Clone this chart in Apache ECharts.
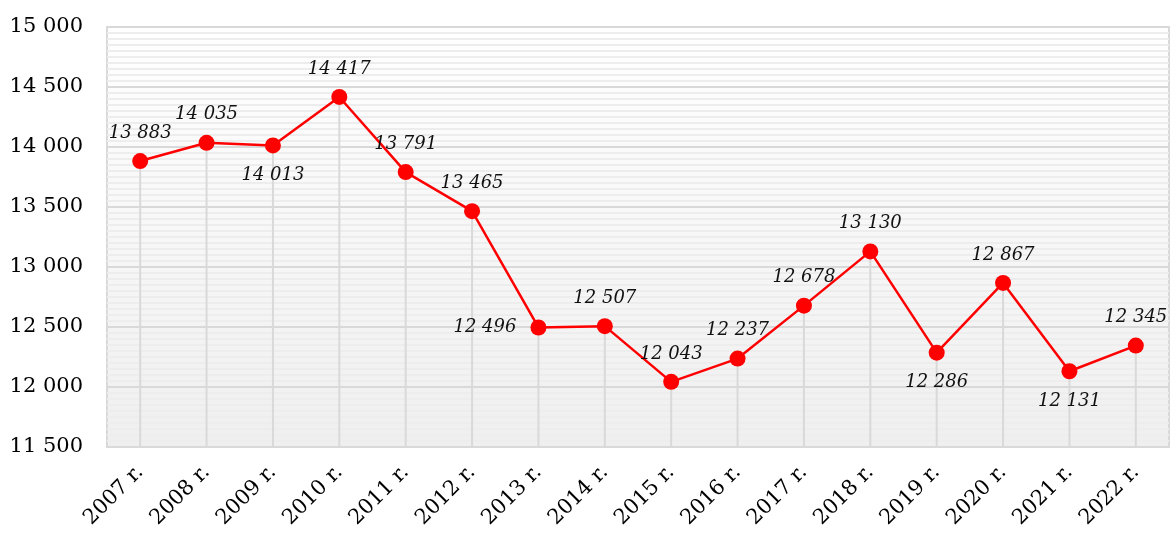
<!DOCTYPE html>
<html>
<head>
<meta charset="utf-8">
<script src="https://cdn.jsdelivr.net/npm/echarts@6/dist/echarts.min.js"></script>
<style>
  html, body { margin: 0; padding: 0; background: #ffffff; }
  #chart { width: 1171px; height: 533px; }
</style>
</head>
<body>
<div id="chart"></div>
<script>
// Yearly values, 2007–2022
const years = ['2007 r.', '2008 r.', '2009 r.', '2010 r.', '2011 r.', '2012 r.', '2013 r.', '2014 r.',
               '2015 r.', '2016 r.', '2017 r.', '2018 r.', '2019 r.', '2020 r.', '2021 r.', '2022 r.'];
const values = [13883, 14035, 14013, 14417, 13791, 13465, 12496, 12507,
                12043, 12237, 12678, 13130, 12286, 12867, 12131, 12345];
const yMin = 11500;
const yMax = 15000;
const yStep = 500;

// where each value label sits relative to its point
const labelSide = {
  '2009 r.': 'bottom', '2013 r.': 'left', '2019 r.': 'bottom', '2021 r.': 'bottom'
};

const fmt = v => String(v).replace(/\B(?=(\d{3})+(?!\d))/g, ' ');
const FONT = '"DejaVu Serif", "Liberation Serif", serif';

const lineData = values.map((v, i) => {
  const side = labelSide[years[i]] || 'top';
  return { value: v, label: { position: side, distance: side === 'top' ? 11 : (side === 'left' ? 14 : 13) } };
});

const chart = echarts.init(document.getElementById('chart'), null, { renderer: 'canvas' });
chart.setOption({
  animation: false,
  grid: {
    left: 107, right: 2, top: 27, bottom: 86,
    show: true,
    borderColor: '#d9d9d9',
    borderWidth: 2,
    backgroundColor: new echarts.graphic.LinearGradient(0, 0, 0, 1, [
      { offset: 0, color: '#ffffff' },
      { offset: 1, color: '#efefef' }
    ])
  },
  xAxis: {
    type: 'category',
    data: years,
    boundaryGap: true,
    axisLine: { show: true, lineStyle: { color: '#d9d9d9', width: 2 } },
    axisTick: { show: false },
    splitLine: { show: false },
    axisLabel: {
      rotate: 45,
      interval: 0,
      margin: 22,
      color: '#000',
      fontFamily: FONT,
      fontSize: 21
    }
  },
  yAxis: {
    type: 'value',
    min: yMin,
    max: yMax,
    interval: yStep,
    axisLine: { show: false },
    axisTick: { show: false },
    splitLine: { show: true, lineStyle: { color: '#d9d9d9', width: 2 } },
    minorTick: { show: false, splitNumber: 10 },
    minorSplitLine: { show: true, lineStyle: { color: '#ededed', width: 2 } },
    axisLabel: {
      margin: 24,
      color: '#000',
      fontFamily: FONT,
      fontSize: 21,
      formatter: v => fmt(v)
    }
  },
  series: [
    {
      // drop lines from each point to the axis
      type: 'bar',
      data: values,
      barWidth: 2,
      barGap: '-100%',
      itemStyle: { color: '#d9d9d9' },
      silent: true,
      z: 1
    },
    {
      type: 'line',
      data: lineData,
      symbol: 'circle',
      symbolSize: 16,
      lineStyle: { color: '#ff0000', width: 2.5 },
      itemStyle: { color: '#ff0000' },
      label: {
        show: true,
        color: '#111',
        fontFamily: FONT,
        fontStyle: 'italic',
        fontSize: 18,
        formatter: p => fmt(p.value)
      },
      z: 3
    }
  ]
});
</script>
</body>
</html>
